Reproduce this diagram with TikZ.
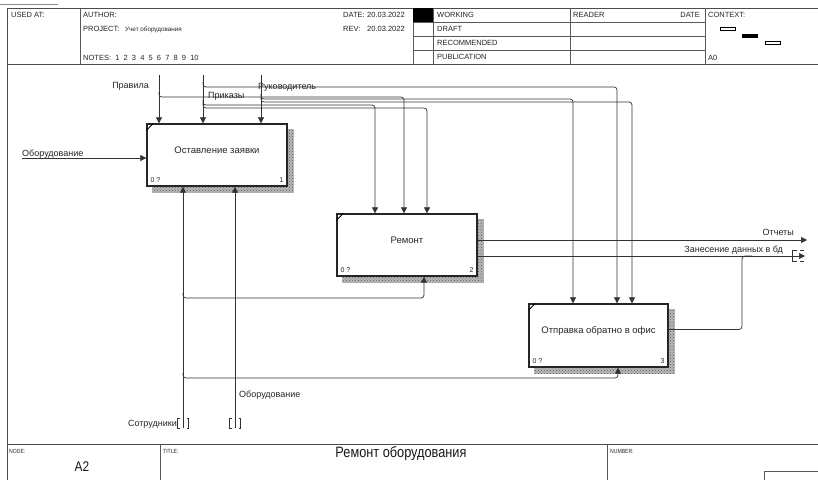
\documentclass[tikz,border=0pt]{standalone}
\usepackage{fontspec}
\setmainfont{Liberation Sans}
\newfontfamily\narrowfont[FakeStretch=0.85]{Liberation Sans}
\usetikzlibrary{arrows.meta,patterns,calc}
\pgfdeclarelayer{bg}
\pgfsetlayers{bg,main}

\begin{document}
\begin{tikzpicture}[x=1pt,y=-1pt,
  frame/.style={draw=black!70,line width=1pt},
  rule/.style={draw=black!65,line width=0.6pt},
  hdr/.style={font=\fontsize{7.5}{8}\selectfont,anchor=base west,inner sep=0pt,text=black!85},
  ftr/.style={font=\narrowfont\fontsize{6}{7}\selectfont,anchor=base west,inner sep=0pt,text=black!85},
  conn/.style={draw=black!80,line width=0.7pt,rounded corners=3pt},
  arr/.style={-{Triangle[length=6pt,width=6pt]}},
  act/.style={draw=black!85,line width=1.3pt,fill=white,minimum width=140pt,minimum height=62pt,inner sep=0pt},
  shade/.style={preaction={fill=black!28},pattern=crosshatch dots,pattern color=black!65},
  boxtxt/.style={font=\fontsize{9.5}{11}\selectfont,inner sep=0pt,text=black!85},
  boxnum/.style={font=\fontsize{7}{8}\selectfont,inner sep=0pt,text=black!85},
  lab/.style={font=\fontsize{9}{10}\selectfont,inner sep=0pt,text=black!85},
  tun/.style={draw=black!80,line width=0.6pt}
]
\useasboundingbox (0,0) rectangle (818,480);
\begin{pgfonlayer}{bg}
  \fill[white] (0,0) rectangle (818,480);
\end{pgfonlayer}

% ---------- form frame ----------
\draw[draw=black!45,line width=1pt] (0,4) -- (58,4);
\draw[frame] (7,480) -- (7,8) -- (818,8);
\draw[frame] (7,64) -- (818,64);
\draw[frame] (7,444) -- (818,444);
\foreach \xx in {80,413,433,570,705} \draw[rule] (\xx,8) -- (\xx,64);
\foreach \yy in {22,36,50} \draw[rule] (413,\yy) -- (705,\yy);
\fill[black] (413,8) rectangle (433,22);
\draw[rule] (160,444) -- (160,480);
\draw[rule] (607,444) -- (607,480);
\draw[rule] (818,471) -- (764,471) -- (764,480);

% ---------- header texts ----------
\node[hdr] at (11,17) {USED AT:};
\node[hdr] at (83,17) {AUTHOR:};
\node[hdr] at (83,31) {PROJECT:};
\node[hdr,font=\fontsize{6.3}{7}\selectfont] at (125,31) {Учет оборудования};
\node[hdr] at (83,60) {NOTES:\ \ 1\ \ 2\ \ 3\ \ 4\ \ 5\ \ 6\ \ 7\ \ 8\ \ 9\ \ 10};
\node[hdr] at (343,17) {DATE:};
\node[hdr] at (367,17) {20.03.2022};
\node[hdr] at (343,31) {REV:};
\node[hdr] at (367,31) {20.03.2022};
\node[hdr] at (437,17) {WORKING};
\node[hdr] at (437,31) {DRAFT};
\node[hdr] at (437,45) {RECOMMENDED};
\node[hdr] at (437,59) {PUBLICATION};
\node[hdr] at (573,17) {READER};
\node[hdr,anchor=base east] at (700,17) {DATE};
\node[hdr] at (708,17) {CONTEXT:};
\node[hdr] at (708,60) {A0};
\draw[line width=0.6pt,fill=white] (720,27) rectangle (735,30.5);
\fill[black] (742,34) rectangle (758,37.5);
\draw[line width=0.6pt,fill=white] (765,41) rectangle (780,44.5);

% ---------- footer texts ----------
\node[ftr] at (9,453) {NODE:};
\node[ftr] at (163,453) {TITLE:};
\node[ftr] at (610,453) {NUMBER:};
\node[inner sep=0pt,font=\narrowfont\fontsize{15}{16}\selectfont,text=black!90] at (401,454) {Ремонт оборудования};
\node[inner sep=0pt,font=\narrowfont\fontsize{14}{15}\selectfont,text=black!90] at (82,467) {A2};

% ---------- activities ----------
\node[act] (b1) at (217,155) {};
\node[act] (b2) at (407,245) {};
\node[act,minimum width=139pt,minimum height=63pt] (b3) at (598.5,335.5) {};
\begin{pgfonlayer}{bg}
  \foreach \b in {b1,b2,b3}
    \fill[shade] ($(\b.north west)+(6,6)$) rectangle ($(\b.south east)+(6,6)$);
\end{pgfonlayer}
\foreach \b/\n/\t in {b1/1/Оставление заявки,b2/2/Ремонт,b3/3/Отправка обратно в офис}{
  \draw[line width=1pt] ($(\b.north west)+(0,7)$) -- ($(\b.north west)+(7,0)$);
  \node[boxtxt] at ($(\b.center)+(0,-5)$) {\t};
  \node[boxnum,anchor=base west] at ($(\b.south west)+(4,-4)$) {0 ?};
  \node[boxnum,anchor=base east] at ($(\b.south east)+(-4,-4)$) {\n};
}

% ---------- controls ----------
\coordinate (cPrav) at (159,75);
\coordinate (cPrik) at (203,75);
\coordinate (cRuk) at (261,75);
\draw[conn,arr] (cPrav) -- (cPrav |- b1.north);
\draw[conn,arr] (cPrik) -- (cPrik |- b1.north);
\draw[conn,arr] (cRuk) -- (cRuk |- b1.north);
\draw[conn,arr] (203,82) -- (203,87) -- (617,87) -- (617,87 |- b3.north);
\draw[conn,arr] (159,92) -- (159,97) -- (404,97) -- (404,97 |- b2.north);
\draw[conn,arr] (261,94) -- (261,99) -- (573,99) -- (573,99 |- b3.north);
\draw[conn,arr] (261,97) -- (261,102) -- (632,102) -- (632,102 |- b3.north);
\draw[conn,arr] (203,100) -- (203,105) -- (375,105) -- (375,105 |- b2.north);
\draw[conn,arr] (203,103) -- (203,108) -- (427,108) -- (427,108 |- b2.north);
\node[lab,anchor=base east] at (149,88) {Правила};
\node[lab,anchor=base west] at (208,98) {Приказы};
\node[lab,anchor=base west] at (258,89) {Руководитель};

% ---------- input ----------
\coordinate (iObor) at (22,158);
\draw[conn,arr] (iObor) -- (iObor -| b1.west);
\node[lab,anchor=base west] at (22,156) {Оборудование};

% ---------- mechanisms ----------
\coordinate (mSotr) at (183,428);
\coordinate (mObor) at (235,428);
\draw[conn,arr] (mSotr) -- (mSotr |- b1.south);
\draw[conn,arr] (mObor) -- (mObor |- b1.south);
\draw[conn,arr] (183,293) -- (183,298) -- (424,298) -- (424,298 |- b2.south);
\draw[conn,arr] (183,373) -- (183,378) -- (618,378) -- (618,378 |- b3.south);
\node[lab,anchor=base east] at (177,426) {Сотрудники};
\node[lab,anchor=base west] at (239,397) {Оборудование};
\foreach \xx in {183,235}{
  \draw[tun] (\xx-3.5,418) -- (\xx-5.5,418) -- (\xx-5.5,428) -- (\xx-3.5,428);
  \draw[tun] (\xx+3.5,418) -- (\xx+5.5,418) -- (\xx+5.5,428) -- (\xx+3.5,428);
}

% ---------- outputs ----------
\coordinate (oOtch) at (807,240);
\coordinate (oZan) at (805,256);
\draw[conn,arr] (oOtch -| b2.east) -- (oOtch);
\draw[conn,arr] (oZan -| b2.east) -- (oZan);
\draw[conn] ($(b3.east)+(0,-6)$) -- (742,329.5) -- (742,256) -- (752,256);
\node[lab,anchor=base east] at (794,235) {Отчеты};
\node[lab,anchor=base east] at (783,252) {Занесение данных в бд};
\draw[tun] (797,250.5) -- (792.5,250.5) -- (792.5,261.5) -- (797,261.5);
\draw[tun] (800,250.5) -- (804,250.5);
\draw[tun] (800,261.5) -- (804,261.5);
\end{tikzpicture}
\end{document}
